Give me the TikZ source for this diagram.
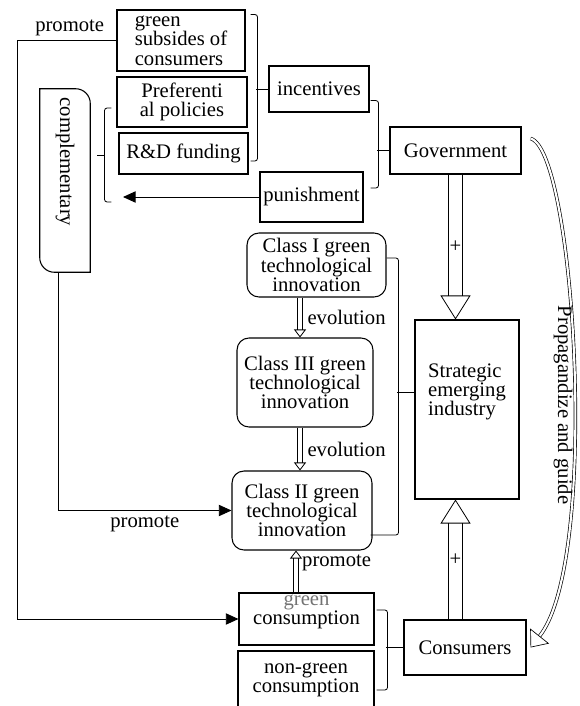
\documentclass[tikz,border=0pt]{standalone}
\usepackage{fontspec}
\setmainfont{Liberation Serif}
\usetikzlibrary{arrows.meta, calc}

\tikzset{
	box/.style = {draw, line width = 0.8pt, inner sep = 0pt, align = center},
	rbox/.style = {box, rounded corners = 9pt},
	brk/.style = {line width = 0.6pt, rounded corners = 2pt},
	link/.style = {-{Triangle[length = 9.5pt, width = 8.5pt]}, line width = 0.7pt},
	thinarrow/.style = {double, double distance = 3.2pt, line width = 0.6pt, -{Triangle[open, length = 6pt, width = 9pt]}},
	bigarrow/.style = {double, double distance = 10pt, line width = 0.6pt, -{Triangle[open, length = 18pt, width = 22.5pt]}},
	curvearrow/.style = {double, double distance = 1.6pt, line width = 0.5pt, -{Triangle[open, length = 11pt, width = 18pt]}}
}

\begin{document}
\begin{tikzpicture}[x = 0.75pt, y = -0.75pt, font = \fontsize{15.5}{14.5}\selectfont]

\useasboundingbox (0, 0) rectangle (579, 706);

% Policy instruments

\node [box, minimum width = 96pt, minimum height = 45.75pt, align = left] (subs) at (181, 40.5) {green\\subsides of\\consumers};
\node [box, minimum width = 97.5pt, minimum height = 37.5pt] (pref) at (182, 102) {Preferenti\\al policies};
\node [box, minimum width = 96.75pt, minimum height = 30.75pt] (rd) at (183.5, 153.5) {R\&D funding};
\node [box, minimum width = 75pt, minimum height = 34.5pt] (inc) at (319, 89) {incentives};
\node [box, minimum width = 77.25pt, minimum height = 37.5pt] (pun) at (311.5, 197) {punishment};
\node [box, minimum width = 98.25pt, minimum height = 35.25pt] (gov) at (455.5, 150.5) {Government};

% Complementary tag

\node [minimum width = 37.5pt, minimum height = 137.25pt, inner sep = 0pt] (comp) at (65, 180.5) {};
\draw [line width = 0.8pt] (comp.west) -- (comp.north west) -- (comp.north)
	[rounded corners = 11pt] -- (comp.north east) -- (comp.east)
	[sharp corners] -- (comp.south east) -- (comp.south)
	[rounded corners = 11pt] -- (comp.south west) -- (comp.west);
\node [rotate = -90] (comptext) at (65, 162) {complementary};

% Green technological innovation

\node [rbox, minimum width = 104.25pt, minimum height = 48pt] (cls1) at (316.5, 265) {Class I green\\technological\\innovation};
\node [rbox, minimum width = 102pt, minimum height = 66.75pt] (cls3) at (305, 382.5) {Class III green\\technological\\innovation};
\node [rbox, minimum width = 105pt, minimum height = 59.25pt] (cls2) at (302, 510.5) {Class II green\\technological\\innovation};

\node [box, minimum width = 78pt, minimum height = 134.25pt] (sei) at (467, 409.5) {};
\node [align = left] (seitext) at ($(sei.center) + (0, -17.5)$) {Strategic\\emerging\\industry};

% Consumption

\node [box, minimum width = 91.5pt, minimum height = 41.25pt] (cons) at (465, 647.5) {Consumers};
\node [box, minimum width = 101.25pt, minimum height = 39pt] (gcons) at (306.5, 619) {};
\node [align = center] (gconstext) at ($(gcons.center) + (0, -7)$) {{\color{black!55}green}\\consumption};
\node [box, minimum width = 102pt, minimum height = 43.5pt] (ngcons) at (306, 680) {non-green\\consumption};

% Brackets

\draw [brk] ($(subs.north east) + (5, 5)$) -- ++(7, 0) |- ($(rd.east) + (2, 7.5)$);
\draw [brk] (inc.west) -- ++(-12, 0);

\draw [brk] ($(inc.south east) + (1, -12)$) -- ++(8, 0) |- ($(pun.east) + (7, -9)$);
\draw [brk] (gov.west) -- ++(-12, 0);

\draw [brk] ($(pref.west) + (-5, 6)$) -- ++(-7, 0) |- ($(rd.west) + (-7, 48.5)$);
\draw [brk] ($(comp.east) + (7, -25.5)$) -- ++(8, 0);

\draw [brk] ($(cls1.east) + (0, -7)$) -- ++(12, 0) |- ($(cls2.east) + (-2, 24.5)$);
\draw [brk] ($(sei.west) + (0, -17.5)$) -- ++(-17, 0);

\draw [brk] ($(gcons.east) + (2, -9)$) -- ++(11, 0) |- ($(ngcons.east) + (2, 10)$);
\draw [brk] (cons.west) -- ++(-17, 0);

% Promote links

\coordinate (leftx) at (17, 0);
\coordinate (punend) at (123, 197);

\draw [link] (subs.west) -- node [above, pos = 0.47] {promote} (subs.west -| leftx) |- (gcons.west);
\draw [link] (pun.west) -- (punend);
\draw [link] ($(comp.south) + (-7, 0)$) |- node [below, pos = 0.75] {promote} (cls2.west);

% Hollow arrows

\draw [thinarrow] ($(cls1.south) + (-16.5, 0)$) -- node [right, xshift = 2pt] {evolution} ($(cls3.north) + (-5, 0)$);
\draw [thinarrow] ($(cls3.south) + (-5, 0)$) -- node [right, xshift = 2pt] {evolution} ($(cls2.north) + (-2, 0)$);
\draw [thinarrow] ($(gcons.north) + (-10.5, 0)$) -- node [right, pos = 0.7, xshift = 1pt] {promote} ($(cls2.south) + (-6, 0)$);

\draw [bigarrow] (gov.south) -- node {+} (gov.south |- sei.north);
\draw [bigarrow] (cons.north -| gov.south) -- node {+} (gov.south |- sei.south);

\draw [curvearrow] ($(gov.east) + (9, -12)$) .. controls (575, 150) and (600, 560) .. ($(cons.east) + (4, 0)$);
\node [rotate = -90] (guide) at (563, 405) {Propagandize and guide};

\end{tikzpicture}
\end{document}
